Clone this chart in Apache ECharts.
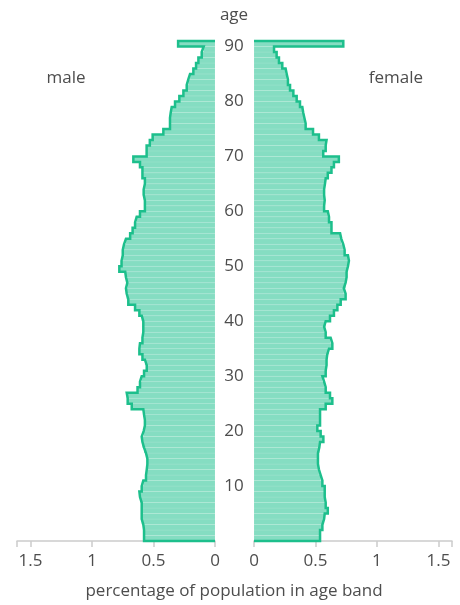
<!DOCTYPE html>
<html>
<head>
<meta charset="utf-8">
<script src="https://cdn.jsdelivr.net/npm/echarts@6/dist/echarts.min.js"></script>
<style>
  html, body { margin: 0; padding: 0; background: #fff; }
  #pyramid { width: 460px; height: 605px; }
</style>
</head>
<body>
<div id="pyramid"></div>
<script>
// ages 0..90, percentage of population in each single-year band
var ages = [];
for (var i = 0; i <= 90; i++) ages.push(i);

var male = [
  0.577, 0.577, 0.583, 0.596, 0.596, 0.596, 0.596, 0.61, 0.615, 0.596,   // 0-9
  0.583, 0.561, 0.555, 0.55, 0.55, 0.561, 0.577, 0.59, 0.596, 0.58,      // 10-19
  0.57, 0.57, 0.577, 0.583, 0.677, 0.71, 0.718, 0.63, 0.61, 0.596,       // 20-29
  0.577, 0.555, 0.57, 0.59, 0.615, 0.61, 0.59, 0.583, 0.583, 0.583,      // 30-39
  0.596, 0.615, 0.65, 0.705, 0.718, 0.724, 0.713, 0.724, 0.73, 0.778,    // 40-49
  0.76, 0.75, 0.75, 0.74, 0.724, 0.69, 0.67, 0.65, 0.637, 0.61,          // 50-59
  0.57, 0.57, 0.58, 0.58, 0.57, 0.57, 0.59, 0.59, 0.61, 0.664,           // 60-69
  0.556, 0.556, 0.53, 0.507, 0.42, 0.366, 0.366, 0.36, 0.352, 0.325,     // 70-79
  0.29, 0.257, 0.23, 0.217, 0.203, 0.176, 0.154, 0.135, 0.108, 0.092,    // 80-89
  0.30                                                                   // 90
];

var female = [
  0.537, 0.537, 0.556, 0.57, 0.575, 0.60, 0.583, 0.575, 0.575, 0.575,    // 0-9
  0.556, 0.542, 0.528, 0.52, 0.52, 0.52, 0.531, 0.537, 0.564, 0.542,     // 10-19
  0.515, 0.537, 0.537, 0.537, 0.583, 0.637, 0.618, 0.583, 0.57, 0.556,   // 20-29
  0.583, 0.59, 0.59, 0.596, 0.61, 0.637, 0.623, 0.583, 0.57, 0.583,      // 30-39
  0.618, 0.65, 0.678, 0.705, 0.745, 0.73, 0.745, 0.753, 0.753, 0.764,    // 40-49
  0.772, 0.764, 0.737, 0.726, 0.71, 0.70, 0.63, 0.63, 0.61, 0.60,        // 50-59
  0.57, 0.575, 0.57, 0.57, 0.577, 0.583, 0.60, 0.63, 0.65, 0.69,         // 60-69
  0.563, 0.583, 0.59, 0.528, 0.48, 0.42, 0.41, 0.40, 0.393, 0.374,       // 70-79
  0.347, 0.32, 0.293, 0.276, 0.266, 0.257, 0.23, 0.203, 0.184, 0.163,    // 80-89
  0.726                                                                  // 90
];

var xTicks = [0, 0.5, 1, 1.5];
var ageTicks = [10, 20, 30, 40, 50, 60, 70, 80, 90];

var FONT = '"Open Sans", "Noto Sans", sans-serif';
var FSIZE = 17;
var TEXT = '#4d4d4d';
var FILL = '#85ddc2';
var EDGE = '#1dbf8c';

function barData(values) {
  return values.map(function (v, i) { return [v, ages[i]]; });
}

// stepped outline around the bars: along the base, up each band edge, back to 0 at the top
function outlineData(values) {
  var pts = [[0, ages[0]]];
  values.forEach(function (v, i) {
    pts.push([v, ages[i]]);
    pts.push([v, ages[i] + 1]);
  });
  pts.push([0, ages[ages.length - 1] + 1]);
  return pts;
}

function renderBand(params, api) {
  var v = api.value(0), a = api.value(1);
  var p0 = api.coord([0, a]);
  var p1 = api.coord([v, a + 1]);
  return {
    type: 'rect',
    shape: {
      x: Math.min(p0[0], p1[0]),
      y: p1[1],
      width: Math.abs(p1[0] - p0[0]),
      height: p0[1] - p1[1]
    },
    style: { fill: FILL, stroke: 'rgba(255,255,255,0.18)', lineWidth: 0.5 }
  };
}

function xAxisFor(gridIndex, inverse) {
  return {
    type: 'value',
    gridIndex: gridIndex,
    inverse: inverse,
    min: 0,
    max: 1.61,
    interval: 0.5,
    splitLine: { show: false },
    axisLine: { show: true, lineStyle: { color: '#ccc', width: 1.5 } },
    axisTick: { show: true, length: 6, lineStyle: { color: '#ccc', width: 1.5 } },
    axisLabel: {
      margin: 12,
      color: TEXT,
      fontFamily: FONT,
      fontSize: FSIZE,
      showMaxLabel: true,
      formatter: function (v) {
        return xTicks.some(function (t) { return Math.abs(t - v) < 1e-6; }) ? String(v) : '';
      }
    }
  };
}

function yAxisFor(gridIndex, showLabels) {
  return {
    type: 'value',
    gridIndex: gridIndex,
    position: 'left',
    min: 0,
    max: 91,
    interval: 10,
    splitLine: { show: false },
    axisLine: { show: false },
    axisTick: { show: false },
    axisLabel: {
      show: showLabels,
      align: 'center',
      margin: 20,
      color: TEXT,
      fontFamily: FONT,
      fontSize: FSIZE,
      formatter: function (v) { return ageTicks.indexOf(v) >= 0 ? String(v) : ''; }
    }
  };
}

function label(text, x, y) {
  return {
    type: 'text', x: x, y: y,
    style: { text: text, align: 'center', verticalAlign: 'middle', fill: TEXT, font: FSIZE + 'px ' + FONT }
  };
}

var chart = echarts.init(document.getElementById('pyramid'));

var option = {
  animation: false,
  backgroundColor: '#fff',
  grid: [
    { left: 17, top: 41, width: 198, height: 500 },
    { left: 254, top: 41, width: 198, height: 500 }
  ],
  xAxis: [xAxisFor(0, true), xAxisFor(1, false)],
  yAxis: [yAxisFor(0, false), yAxisFor(1, true)],
  series: [
    {
      type: 'custom', name: 'male', xAxisIndex: 0, yAxisIndex: 0,
      renderItem: renderBand, encode: { x: 0, y: 1 }, data: barData(male)
    },
    {
      type: 'custom', name: 'female', xAxisIndex: 1, yAxisIndex: 1,
      renderItem: renderBand, encode: { x: 0, y: 1 }, data: barData(female)
    },
    {
      type: 'line', xAxisIndex: 0, yAxisIndex: 0, clip: false, symbol: 'none', z: 5,
      lineStyle: { color: EDGE, width: 2.5, join: 'miter' }, data: outlineData(male)
    },
    {
      type: 'line', xAxisIndex: 1, yAxisIndex: 1, clip: false, symbol: 'none', z: 5,
      lineStyle: { color: EDGE, width: 2.5, join: 'miter' }, data: outlineData(female)
    }
  ],
  graphic: [
    label('age', 234, 15),
    label('male', 66, 78),
    label('female', 396, 78),
    label('percentage of population in age band', 234, 591)
  ]
};

chart.setOption(option);
</script>
</body>
</html>
